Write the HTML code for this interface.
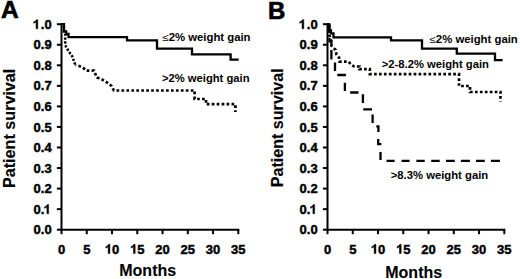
<!DOCTYPE html>
<html><head><meta charset="utf-8"><style>
html,body{margin:0;padding:0;background:#fff;width:520px;height:279px;overflow:hidden}
svg{display:block}
text{font-family:"Liberation Sans", sans-serif;font-weight:bold;fill:#000}
.tl{font-size:13px;stroke:#000;stroke-width:0.45px}
.al{font-size:16px;stroke:#000;stroke-width:0.1px}
.pl{font-size:24px;stroke:#000;stroke-width:0.6px}
.lg{font-size:10px}
.hid{fill-opacity:0;stroke-opacity:0}
.one{fill:#000;stroke:#000;stroke-width:71px}
</style></head><body>
<svg width="520" height="279" viewBox="0 0 520 279">
<rect width="520" height="279" fill="#fff"/>
<text class="pl" style="font-size:23px" transform="translate(0.9,17.5) scale(1.065,1)">A</text>
<text class="pl" transform="translate(267.9,18.5) scale(1.0,1)">B</text>
<path d="M61.50,23.20 V229.70 H239.30" fill="none" stroke="#000" stroke-width="2" stroke-linejoin="miter"/>
<line x1="56.90" y1="229.70" x2="61.50" y2="229.70" stroke="#000" stroke-width="2"/>
<text x="51.65" y="234.30" text-anchor="end" class="tl">0.0</text>
<line x1="56.90" y1="209.15" x2="61.50" y2="209.15" stroke="#000" stroke-width="2"/>
<text x="51.65" y="213.75" text-anchor="end" class="tl">0.<tspan class="hid">1</tspan></text>
<path class="one" d="M810,0 L810,1440 L590,1440 Q540,1330 420,1240 Q300,1150 160,1100 L160,860 Q380,930 530,1070 L530,0 Z" transform="translate(43.52,213.75) scale(0.00635,-0.00635)"/>
<line x1="56.90" y1="188.60" x2="61.50" y2="188.60" stroke="#000" stroke-width="2"/>
<text x="51.65" y="193.20" text-anchor="end" class="tl">0.2</text>
<line x1="56.90" y1="168.05" x2="61.50" y2="168.05" stroke="#000" stroke-width="2"/>
<text x="51.65" y="172.65" text-anchor="end" class="tl">0.3</text>
<line x1="56.90" y1="147.50" x2="61.50" y2="147.50" stroke="#000" stroke-width="2"/>
<text x="51.65" y="152.10" text-anchor="end" class="tl">0.4</text>
<line x1="56.90" y1="126.95" x2="61.50" y2="126.95" stroke="#000" stroke-width="2"/>
<text x="51.65" y="131.55" text-anchor="end" class="tl">0.5</text>
<line x1="56.90" y1="106.40" x2="61.50" y2="106.40" stroke="#000" stroke-width="2"/>
<text x="51.65" y="111.00" text-anchor="end" class="tl">0.6</text>
<line x1="56.90" y1="85.85" x2="61.50" y2="85.85" stroke="#000" stroke-width="2"/>
<text x="51.65" y="90.45" text-anchor="end" class="tl">0.7</text>
<line x1="56.90" y1="65.30" x2="61.50" y2="65.30" stroke="#000" stroke-width="2"/>
<text x="51.65" y="69.90" text-anchor="end" class="tl">0.8</text>
<line x1="56.90" y1="44.75" x2="61.50" y2="44.75" stroke="#000" stroke-width="2"/>
<text x="51.65" y="49.35" text-anchor="end" class="tl">0.9</text>
<line x1="56.90" y1="24.20" x2="61.50" y2="24.20" stroke="#000" stroke-width="2"/>
<text x="51.65" y="28.80" text-anchor="end" class="tl"><tspan class="hid">1</tspan>.0</text>
<path class="one" d="M810,0 L810,1440 L590,1440 Q540,1330 420,1240 Q300,1150 160,1100 L160,860 Q380,930 530,1070 L530,0 Z" transform="translate(32.68,28.80) scale(0.00635,-0.00635)"/>
<line x1="61.50" y1="229.70" x2="61.50" y2="234.20" stroke="#000" stroke-width="2"/>
<text x="61.50" y="253.50" text-anchor="middle" class="tl">0</text>
<line x1="86.76" y1="229.70" x2="86.76" y2="234.20" stroke="#000" stroke-width="2"/>
<text x="86.76" y="253.50" text-anchor="middle" class="tl">5</text>
<line x1="112.01" y1="229.70" x2="112.01" y2="234.20" stroke="#000" stroke-width="2"/>
<text x="112.01" y="253.50" text-anchor="middle" class="tl"><tspan class="hid">1</tspan>0</text>
<path class="one" d="M810,0 L810,1440 L590,1440 Q540,1330 420,1240 Q300,1150 160,1100 L160,860 Q380,930 530,1070 L530,0 Z" transform="translate(104.78,253.50) scale(0.00635,-0.00635)"/>
<line x1="137.27" y1="229.70" x2="137.27" y2="234.20" stroke="#000" stroke-width="2"/>
<text x="137.27" y="253.50" text-anchor="middle" class="tl"><tspan class="hid">1</tspan>5</text>
<path class="one" d="M810,0 L810,1440 L590,1440 Q540,1330 420,1240 Q300,1150 160,1100 L160,860 Q380,930 530,1070 L530,0 Z" transform="translate(130.04,253.50) scale(0.00635,-0.00635)"/>
<line x1="162.53" y1="229.70" x2="162.53" y2="234.20" stroke="#000" stroke-width="2"/>
<text x="162.53" y="253.50" text-anchor="middle" class="tl">20</text>
<line x1="187.79" y1="229.70" x2="187.79" y2="234.20" stroke="#000" stroke-width="2"/>
<text x="187.79" y="253.50" text-anchor="middle" class="tl">25</text>
<line x1="213.04" y1="229.70" x2="213.04" y2="234.20" stroke="#000" stroke-width="2"/>
<text x="213.04" y="253.50" text-anchor="middle" class="tl">30</text>
<line x1="238.30" y1="229.70" x2="238.30" y2="234.20" stroke="#000" stroke-width="2"/>
<text x="238.30" y="253.50" text-anchor="middle" class="tl">35</text>
<path d="M327.50,23.20 V229.70 H505.30" fill="none" stroke="#000" stroke-width="2" stroke-linejoin="miter"/>
<line x1="322.90" y1="229.70" x2="327.50" y2="229.70" stroke="#000" stroke-width="2"/>
<text x="317.65" y="234.30" text-anchor="end" class="tl">0.0</text>
<line x1="322.90" y1="209.15" x2="327.50" y2="209.15" stroke="#000" stroke-width="2"/>
<text x="317.65" y="213.75" text-anchor="end" class="tl">0.<tspan class="hid">1</tspan></text>
<path class="one" d="M810,0 L810,1440 L590,1440 Q540,1330 420,1240 Q300,1150 160,1100 L160,860 Q380,930 530,1070 L530,0 Z" transform="translate(309.52,213.75) scale(0.00635,-0.00635)"/>
<line x1="322.90" y1="188.60" x2="327.50" y2="188.60" stroke="#000" stroke-width="2"/>
<text x="317.65" y="193.20" text-anchor="end" class="tl">0.2</text>
<line x1="322.90" y1="168.05" x2="327.50" y2="168.05" stroke="#000" stroke-width="2"/>
<text x="317.65" y="172.65" text-anchor="end" class="tl">0.3</text>
<line x1="322.90" y1="147.50" x2="327.50" y2="147.50" stroke="#000" stroke-width="2"/>
<text x="317.65" y="152.10" text-anchor="end" class="tl">0.4</text>
<line x1="322.90" y1="126.95" x2="327.50" y2="126.95" stroke="#000" stroke-width="2"/>
<text x="317.65" y="131.55" text-anchor="end" class="tl">0.5</text>
<line x1="322.90" y1="106.40" x2="327.50" y2="106.40" stroke="#000" stroke-width="2"/>
<text x="317.65" y="111.00" text-anchor="end" class="tl">0.6</text>
<line x1="322.90" y1="85.85" x2="327.50" y2="85.85" stroke="#000" stroke-width="2"/>
<text x="317.65" y="90.45" text-anchor="end" class="tl">0.7</text>
<line x1="322.90" y1="65.30" x2="327.50" y2="65.30" stroke="#000" stroke-width="2"/>
<text x="317.65" y="69.90" text-anchor="end" class="tl">0.8</text>
<line x1="322.90" y1="44.75" x2="327.50" y2="44.75" stroke="#000" stroke-width="2"/>
<text x="317.65" y="49.35" text-anchor="end" class="tl">0.9</text>
<line x1="322.90" y1="24.20" x2="327.50" y2="24.20" stroke="#000" stroke-width="2"/>
<text x="317.65" y="28.80" text-anchor="end" class="tl"><tspan class="hid">1</tspan>.0</text>
<path class="one" d="M810,0 L810,1440 L590,1440 Q540,1330 420,1240 Q300,1150 160,1100 L160,860 Q380,930 530,1070 L530,0 Z" transform="translate(298.68,28.80) scale(0.00635,-0.00635)"/>
<line x1="327.50" y1="229.70" x2="327.50" y2="234.20" stroke="#000" stroke-width="2"/>
<text x="327.50" y="253.50" text-anchor="middle" class="tl">0</text>
<line x1="352.76" y1="229.70" x2="352.76" y2="234.20" stroke="#000" stroke-width="2"/>
<text x="352.76" y="253.50" text-anchor="middle" class="tl">5</text>
<line x1="378.01" y1="229.70" x2="378.01" y2="234.20" stroke="#000" stroke-width="2"/>
<text x="378.01" y="253.50" text-anchor="middle" class="tl"><tspan class="hid">1</tspan>0</text>
<path class="one" d="M810,0 L810,1440 L590,1440 Q540,1330 420,1240 Q300,1150 160,1100 L160,860 Q380,930 530,1070 L530,0 Z" transform="translate(370.78,253.50) scale(0.00635,-0.00635)"/>
<line x1="403.27" y1="229.70" x2="403.27" y2="234.20" stroke="#000" stroke-width="2"/>
<text x="403.27" y="253.50" text-anchor="middle" class="tl"><tspan class="hid">1</tspan>5</text>
<path class="one" d="M810,0 L810,1440 L590,1440 Q540,1330 420,1240 Q300,1150 160,1100 L160,860 Q380,930 530,1070 L530,0 Z" transform="translate(396.04,253.50) scale(0.00635,-0.00635)"/>
<line x1="428.53" y1="229.70" x2="428.53" y2="234.20" stroke="#000" stroke-width="2"/>
<text x="428.53" y="253.50" text-anchor="middle" class="tl">20</text>
<line x1="453.79" y1="229.70" x2="453.79" y2="234.20" stroke="#000" stroke-width="2"/>
<text x="453.79" y="253.50" text-anchor="middle" class="tl">25</text>
<line x1="479.04" y1="229.70" x2="479.04" y2="234.20" stroke="#000" stroke-width="2"/>
<text x="479.04" y="253.50" text-anchor="middle" class="tl">30</text>
<line x1="504.30" y1="229.70" x2="504.30" y2="234.20" stroke="#000" stroke-width="2"/>
<text x="504.30" y="253.50" text-anchor="middle" class="tl">35</text>
<text class="al" style="font-size:16.15px" transform="translate(14.7,128.35) rotate(-90)" text-anchor="middle">Patient survival</text>
<text class="al" style="font-size:16.1px" transform="translate(282.5,127.8) rotate(-90)" text-anchor="middle">Patient survival</text>
<text class="al" x="147.7" y="275.9" text-anchor="middle">Months</text>
<text class="al" x="413.7" y="277.9" text-anchor="middle">Months</text>
<path d="M61.5,24.2 H64 V31.5 H66.2 V34 H68.5 V37.2 H127 V40.4 H157 V48.6 H192 V54.4 H230.6 V59.6 H238.7" fill="none" stroke="#000" stroke-width="2.3"/>
<path d="M63.8,26 L63.8,30 L65.2,34 L65.2,42 L66,47 L69,51.7 L73,57.5 L74,62 L75.5,65" fill="none" stroke="#000" stroke-width="2.5" stroke-dasharray="2.3 1.6"/>
<path d="M75.5,65 L79,66 L83,67.5 L86,70.6 L94,70.6 L95.5,74.3 L97,77.6 L101,78.7 L105,81.3 L109,83.7 L111.5,86 L113,89 L114,90.5 L194.6,90.5 L194.6,99 L206,99 L206,104.2 L235.4,104.2 L235.4,112" fill="none" stroke="#000" stroke-width="2.7" stroke-dasharray="2.7 2.25" stroke-dashoffset="-3.0"/>
<path d="M327.5,24.2 H329.2 V30.5 H331 V33.3 H333.5 V37.4 H391 V40.3 H422 V48.6 H456.8 V53.7 H495 V60.1 H502.6" fill="none" stroke="#000" stroke-width="2.3"/>
<path d="M327.5,24.2 L329,24.2 L329,34 L331,40 L331.5,46 L335.7,50 L336.4,54.3 L339,57.5 L339.5,61.7 L348.7,61.7 L351,64.6 L354.2,66.5 L359.5,66.5 L359.5,69.2 L369.8,69.2 L369.8,74.1 L459,74.1 L459,86 L470,86 L470,92 L500.5,92 L500.5,101.5" fill="none" stroke="#000" stroke-width="2.7" stroke-dasharray="2.7 2.25" stroke-dashoffset="2.9"/>
<path d="M329.5,24.2 V33 M329.5,38 V41.3 H331.4 V44.5 M331.4,50 V59.4 M335,62.5 V71 M337.3,75 H345.9 M344.9,82.8 V91 M350.2,92.5 H358.5 M362.9,94.3 V103 M363.2,109.4 H372 M372.6,114.5 V123 M376.3,126.3 H378.4 V132 M378.2,139 V144.2 H381.4 M380.5,151.9 V160 M386.5,160.8 H394.6 M401.6,160.8 H409.6 M416.4,160.8 H424.7 M431.2,160.8 H439.7 M446,160.8 H454.8 M460.9,160.8 H469.9 M476,160.8 H484.8 M490.9,160.8 H499.9" fill="none" stroke="#000" stroke-width="2.3" stroke-linejoin="miter"/>
<text class="lg" transform="translate(162.40,40.80) scale(1.1351,1)"><tspan style="font-weight:normal">≤</tspan>2% weight gain</text>
<text class="lg" transform="translate(161.90,82.10) scale(1.1244,1)">&gt;2% weight gain</text>
<text class="lg" transform="translate(429.60,42.80) scale(1.1364,1)"><tspan style="font-weight:normal">≤</tspan>2% weight gain</text>
<text class="lg" transform="translate(381.70,67.90) scale(1.1263,1)">&gt;2-8.2% weight gain</text>
<text class="lg" transform="translate(390.70,178.90) scale(1.1291,1)">&gt;8.3% weight gain</text>
</svg>
</body></html>
